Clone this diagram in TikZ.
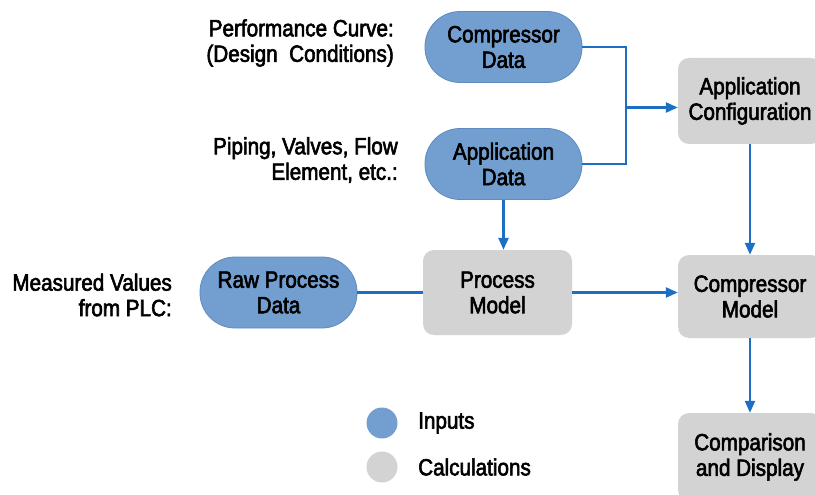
\documentclass[tikz,border=0pt]{standalone}
\usepackage{fontspec}
\setmainfont[FakeStretch=0.88, FakeBold=2.5]{Liberation Sans}
\usetikzlibrary{arrows.meta}
\definecolor{inblue}{HTML}{729FD0}
\definecolor{inborder}{HTML}{5E8BC0}
\definecolor{calcgray}{HTML}{D3D3D3}
\definecolor{linkblue}{HTML}{1C6FC2}
\tikzset{
  txt/.style={font=\fontsize{23.5}{25.5}\selectfont, text=black},
  inputbox/.style={txt, align=center, fill=inblue, draw=inborder, line width=0.8pt,
    rounded corners=35pt, minimum width=157pt, minimum height=71pt, inner sep=0pt},
  calcbox/.style={txt, align=center, fill=calcgray, draw=none,
    rounded corners=11pt, minimum width=144pt, minimum height=85pt, inner sep=0pt},
  note/.style={txt, align=right, anchor=east, inner sep=0pt},
  link/.style={draw=linkblue, line width=2.4pt},
  arrow/.style={link, -{Triangle[length=12pt,width=10pt]}},
}
\begin{document}
\begin{tikzpicture}[x=1pt,y=-1pt]
\useasboundingbox (0,0) rectangle (815,495);
\clip (0,0) rectangle (815,495);

% input nodes
\node[inputbox] (cdata) at (503.5,47) {Compressor\\Data};
\node[inputbox] (adata) at (503.5,164) {Application\\Data};
\node[inputbox] (raw) at (278.5,292.5) {Raw Process\\Data};

% calculation nodes
\node[calcbox, minimum width=149pt] (pm) at (497.5,292.5) {Process\\Model};
\node[calcbox, minimum height=86pt] (aconf) at (750,101) {Application\\Configuration};
\node[calcbox, minimum height=83pt] (cm) at (750,296.5) {Compressor\\Model};
\node[calcbox, minimum height=88pt] (cd) at (750,457) {Comparison\\and Display};

% notes
\node[note] (n1) at (394,43) {Performance Curve:\\(Design\ \ Conditions)};
\node[note] (n2) at (398,160) {Piping, Valves, Flow\ \\Element, etc.:};
\node[note] (n3) at (172,295) {Measured Values\\from PLC:};

% legend
\node[circle, fill=inblue, minimum size=31pt, inner sep=0pt] (lin) at (382,423) {};
\node[circle, fill=calcgray, minimum size=31pt, inner sep=0pt] (lcalc) at (382,467) {};
\node[txt, anchor=west, inner sep=0pt] (tin) at (418,423) {Inputs};
\node[txt, anchor=west, inner sep=0pt] (tcalc) at (418,467) {Calculations};

% connectors
\coordinate (j) at (626,107.5);
\draw[link] (cdata.east) -| (j |- adata.east) -- (adata.east);
\draw[arrow] (j) -- (j -| aconf.west);
\draw[arrow] (adata.south) -- (adata.south |- pm.north);
\draw[link] (raw.east) -- (pm.west);
\draw[arrow] (pm.east) -- (pm.east -| cm.west);
\draw[arrow] (aconf.south) -- (cm.north);
\draw[arrow] (cm.south) -- (cd.north);
\end{tikzpicture}
\end{document}
